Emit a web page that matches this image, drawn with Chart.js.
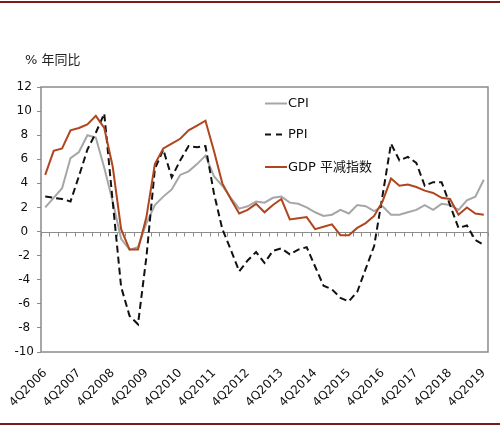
<!DOCTYPE html>
<html><head><meta charset="utf-8">
<script src="https://cdn.jsdelivr.net/npm/chart.js@4.4.1/dist/chart.umd.min.js"></script>
<style>
html,body{margin:0;padding:0;background:#fff;}
#wrap{position:relative;width:500px;height:428px;overflow:hidden;}
#title{position:absolute;left:25px;top:52px;font-size:13px;line-height:15px;font-family:"DejaVu Sans","Noto Sans CJK SC",sans-serif;color:#222;white-space:nowrap;}
.rule{position:absolute;left:0;width:500px;height:2px;background:#7a1a1a;}
</style></head>
<body><div id="wrap"><canvas id="c" width="500" height="428"></canvas>
<div id="title">% 年同比</div>
<div class="rule" style="top:1px"></div><div class="rule" style="top:423px"></div></div>
<script>
const quarters = [
 '4Q2006',
 '1Q2007','2Q2007','3Q2007','4Q2007',
 '1Q2008','2Q2008','3Q2008','4Q2008',
 '1Q2009','2Q2009','3Q2009','4Q2009',
 '1Q2010','2Q2010','3Q2010','4Q2010',
 '1Q2011','2Q2011','3Q2011','4Q2011',
 '1Q2012','2Q2012','3Q2012','4Q2012',
 '1Q2013','2Q2013','3Q2013','4Q2013',
 '1Q2014','2Q2014','3Q2014','4Q2014',
 '1Q2015','2Q2015','3Q2015','4Q2015',
 '1Q2016','2Q2016','3Q2016','4Q2016',
 '1Q2017','2Q2017','3Q2017','4Q2017',
 '1Q2018','2Q2018','3Q2018','4Q2018',
 '1Q2019','2Q2019','3Q2019','4Q2019'
];
const cpi = [2.0, 2.8,3.6,6.1,6.6, 8.0,7.8,5.3,2.5, -0.6,-1.5,-1.3,0.7, 2.2,2.9,3.5,4.7,
 5.0,5.6,6.3,4.6, 3.8,2.8,1.9,2.1, 2.5,2.4,2.8,2.9, 2.4,2.3,2.0,1.6, 1.3,1.4,1.8,1.5,
 2.2,2.1,1.7,2.1, 1.4,1.4,1.6,1.8, 2.2,1.8,2.3,2.2, 1.8,2.6,2.9,4.3];
const ppi = [2.9, 2.8,2.7,2.5,4.6, 6.8,8.2,9.8,2.5, -4.6,-7.0,-7.7,-2.1, 5.2,6.8,4.5,5.9,
 7.1,7.0,7.1,3.2, 0.2,-1.5,-3.3,-2.4, -1.7,-2.6,-1.6,-1.4, -1.9,-1.5,-1.3,-2.9,
 -4.5,-4.8,-5.5,-5.8, -5.0,-3.1,-1.2,3.0, 7.3,5.9,6.2,5.7, 3.8,4.1,4.1,2.2, 0.3,0.5,-0.7,-1.1];
const gdpDeflator = [4.7, 6.7,6.9,8.4,8.6, 8.9,9.6,8.6,5.4, 0.2,-1.5,-1.5,1.2, 5.6,6.9,7.3,7.7,
 8.4,8.8,9.2,6.7, 4.0,2.7,1.5,1.8, 2.3,1.6,2.2,2.7, 1.0,1.1,1.2,0.2, 0.4,0.6,-0.3,-0.3,
 0.3,0.7,1.3,2.5, 4.4,3.8,3.9,3.7, 3.4,3.2,2.8,2.7, 1.4,2.0,1.5,1.4];
const yTicks = [-10,-8,-6,-4,-2,0,2,4,6,8,10,12];
const seriesNames = ['CPI','PPI','GDP 平减指数'];
const colors = {cpi:'#a6a6a6', ppi:'#111111', gdp:'#b0461f'};

const FONT = '"DejaVu Sans","Noto Sans CJK SC",sans-serif';

const decor = {
  id:'decor',
  beforeDatasetsDraw(chart){
    const {ctx, chartArea:a, scales:{x,y}} = chart;
    ctx.save();
    // zero line with category boundary ticks
    const y0 = Math.round(y.getPixelForValue(0)) + 0.5;
    ctx.strokeStyle = '#8c8c8c'; ctx.lineWidth = 1;
    ctx.beginPath(); ctx.moveTo(a.left, y0); ctx.lineTo(a.right, y0); ctx.stroke();
    const n = quarters.length;
    const step = (x.getPixelForValue(n-1) - x.getPixelForValue(0)) / (n-1);
    ctx.beginPath();
    for (let i=0;i<=n;i++){
      const px = Math.round(x.getPixelForValue(0) - step/2 + i*step) + 0.5;
      ctx.moveTo(px, y0); ctx.lineTo(px, y0+4);
    }
    ctx.stroke();
    ctx.restore();
  },
  afterDatasetsDraw(chart){
    const {ctx, chartArea:a} = chart;
    ctx.save();
    // frame
    ctx.strokeStyle = '#8a8a8a'; ctx.lineWidth = 1.5;
    ctx.strokeRect(a.left, a.top, a.right-a.left, a.bottom-a.top);
    // legend
    const items = [
      {name:seriesNames[0], color:colors.cpi, dash:[], y:103.5},
      {name:seriesNames[1], color:colors.ppi, dash:[6,5], y:134.5},
      {name:seriesNames[2], color:colors.gdp, dash:[], y:167}
    ];
    ctx.textBaseline = 'middle'; ctx.textAlign = 'left';
    ctx.font = '13px ' + FONT;
    items.forEach(it=>{
      ctx.strokeStyle = it.color; ctx.lineWidth = 2; ctx.setLineDash(it.dash);
      ctx.beginPath(); ctx.moveTo(265, it.y); ctx.lineTo(287, it.y); ctx.stroke();
      ctx.setLineDash([]);
      ctx.fillStyle = '#111';
      ctx.fillText(it.name, 288, it.y+0.5);
    });
    ctx.restore();
  }
};

new Chart(document.getElementById('c'), {
  type:'line',
  data:{
    labels: quarters,
    datasets:[
      {label:seriesNames[0], data:cpi, borderColor:colors.cpi, borderWidth:2, pointRadius:0, tension:0, order:3},
      {label:seriesNames[1], data:ppi, borderColor:colors.ppi, borderWidth:2, borderDash:[7,4], pointRadius:0, tension:0, order:2},
      {label:seriesNames[2], data:gdpDeflator, borderColor:colors.gdp, borderWidth:2, pointRadius:0, tension:0, order:1}
    ]
  },
  options:{
    responsive:false, animation:false, devicePixelRatio:1,
    layout:{padding:{top:87, right:4.5, left:0, bottom:0}},
    plugins:{legend:{display:false}, tooltip:{enabled:false}, title:{display:false}},
    scales:{
      x:{
        type:'category', offset:true,
        grid:{display:false}, border:{display:false},
        ticks:{autoSkip:false, maxRotation:45, minRotation:45, padding:6,
          font:{family:FONT, size:12}, color:'#111',
          callback:(v,i)=> i%4===0 ? quarters[i] : ''},
        afterFit:(s)=>{ s.height = 76; }
      },
      y:{
        min:-10, max:12,
        afterBuildTicks:(s)=>{ s.ticks = yTicks.map(v=>({value:v})); },
        grid:{drawOnChartArea:false, drawTicks:true, tickLength:4, color:'#8a8a8a'},
        border:{display:false},
        ticks:{crossAlign:'center', padding:3, font:{family:FONT, size:12}, color:'#111'},
        afterFit:(s)=>{ s.width = 41; }
      }
    }
  },
  plugins:[decor]
});
</script>
</body></html>
